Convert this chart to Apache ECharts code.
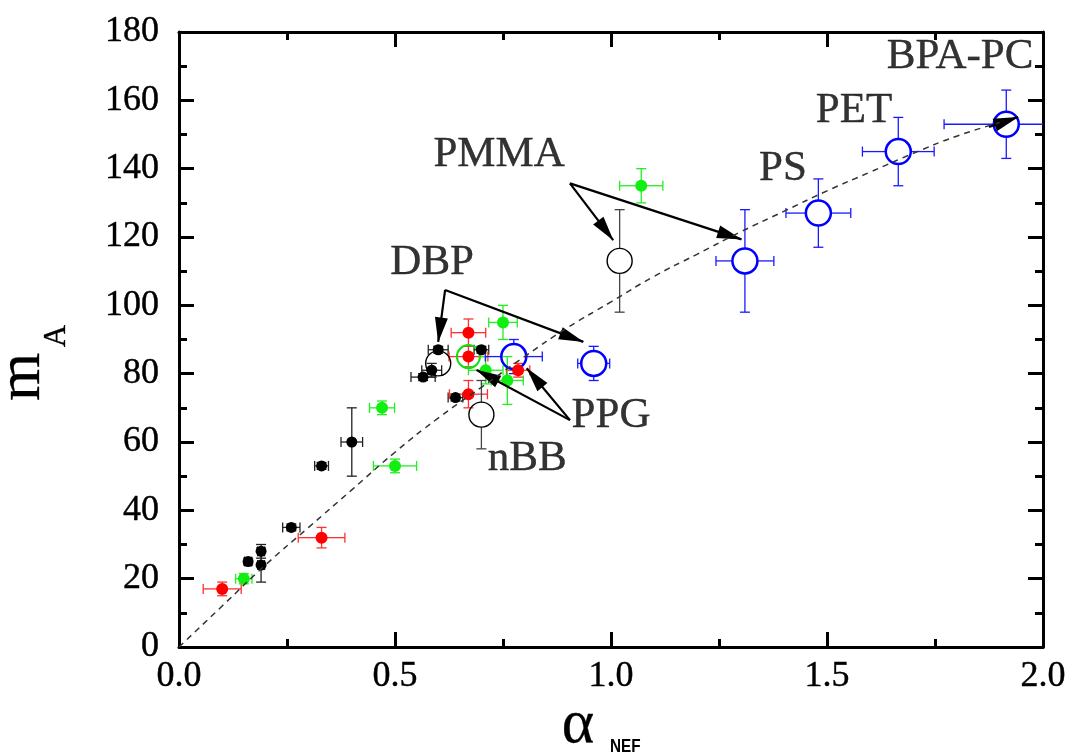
<!DOCTYPE html>
<html>
<head>
<meta charset="utf-8">
<script src="https://cdn.jsdelivr.net/npm/echarts@6/dist/echarts.min.js"></script>
<style>
  html, body { margin: 0; padding: 0; background: #fff; }
  #chart { width: 1072px; height: 752px; }
</style>
</head>
<body>
<div id="chart"></div>
<script>
// black filled points
var blackX = [0.16, 0.19, 0.19, 0.26, 0.33, 0.40, 0.565, 0.585, 0.60, 0.64, 0.70];
var blackY = [25, 28, 24, 35, 53, 60, 79, 81, 87, 73, 87];
var blackXErr = [0.008, 0.008, 0.008, 0.02, 0.016, 0.025, 0.028, 0.023, 0.023, 0.017, 0.017];
var blackYErr = [1, 2, 5, 1, 1, 10, 1, 2, 1, 1, 1];

// red filled points
var redX = [0.10, 0.33, 0.67, 0.67, 0.67, 0.785];
var redY = [17, 32, 92, 85, 74, 81];
var redXErr = [0.044, 0.054, 0.04, 0.045, 0.044, 0.027];
var redYErr = [2, 3, 4, 3, 4, 2];

// green filled points
var greenX = [0.15, 0.47, 0.50, 0.71, 0.75, 0.76, 1.07];
var greenY = [20, 70, 53, 81, 95, 78, 135];
var greenXErr = [0.019, 0.029, 0.05, 0.04, 0.033, 0.037, 0.05];
var greenYErr = [1.5, 2, 2, 4, 5, 7, 5];

// blue open circles (PS, PET, BPA-PC ...)
var blueX = [0.775, 0.96, 1.31, 1.48, 1.665, 1.915];
var blueY = [85, 83, 113, 127, 145, 153];
var blueXErr = [0.066, 0.037, 0.067, 0.075, 0.083, 0.144];
var blueYErr = [5, 5, 15, 10, 10, 10];

// black open circles (DBP, nBB, PMMA)
var openX = [0.60, 0.70, 1.02];
var openY = [83, 68, 113];
var openXErr = [0, 0, 0];
var openYErr = [0, 10, 15];

// green open circle
var greenOpenX = [0.67];
var greenOpenY = [85];

// dashed guide curve
var fitX = [0, 0.1, 0.2, 0.3, 0.4, 0.5, 0.6, 0.7, 0.8, 0.9, 1.0, 1.1, 1.2, 1.3, 1.4, 1.5, 1.6, 1.7, 1.8, 1.9];
var fitY = [0, 12, 24, 35, 46, 57, 67, 76, 85, 93.5, 101, 108.5, 115, 121.5, 127.5, 133.5, 139, 144.5, 149.5, 153.5];

// text annotations
var labelNames = ['PMMA', 'BPA-PC', 'PET', 'PS', 'DBP', 'PPG', 'nBB'];
var labelX = [0.741, 1.808, 1.5625, 1.398, 0.586, 1.0, 0.806];
var labelY = [144, 172.7, 156.9, 139.9, 112.4, 67.6, 55.0];

// arrows [x1, y1, x2, y2], (x2, y2) is the tip
var arrows = [
  [0.905, 135.7, 1.005, 119.1],
  [0.905, 135.7, 1.302, 119.3],
  [0.616, 104.5, 0.600, 89.3],
  [0.616, 104.5, 0.936, 89.3],
  [0.905, 66.4, 0.689, 81.1],
  [0.905, 66.4, 0.805, 81.6],
  [1.875, 152.2, 1.942, 155.1]
];

function zip() {
  var cols = Array.prototype.slice.call(arguments);
  return cols[0].map(function (_, i) {
    return cols.map(function (c) { return c[i]; });
  });
}

function errBars(color, gap) {
  return function (params, api) {
    var x = api.value(0), y = api.value(1), ex = api.value(2), ey = api.value(3);
    var c = api.coord([x, y]);
    var cap = 5;
    var st = { stroke: color, lineWidth: 1.3 };
    var kids = [];
    function seg(x1, y1, x2, y2) {
      kids.push({ type: 'line', shape: { x1: x1, y1: y1, x2: x2, y2: y2 }, style: st });
    }
    if (ex > 0) {
      var l = api.coord([x - ex, y]), r = api.coord([x + ex, y]);
      seg(l[0], c[1], c[0] - gap, c[1]);
      seg(c[0] + gap, c[1], r[0], c[1]);
      seg(l[0], c[1] - cap, l[0], c[1] + cap);
      seg(r[0], c[1] - cap, r[0], c[1] + cap);
    }
    if (ey > 0) {
      var t = api.coord([x, y + ey]), b = api.coord([x, y - ey]);
      seg(c[0], t[1], c[0], c[1] - gap);
      seg(c[0], c[1] + gap, c[0], b[1]);
      seg(c[0] - cap, t[1], c[0] + cap, t[1]);
      seg(c[0] - cap, b[1], c[0] + cap, b[1]);
    }
    return { type: 'group', children: kids };
  };
}

var serif = 'Liberation Serif';

function tickAxis(pos, min, max, interval, showLabel) {
  return {
    type: 'value', position: pos, min: min, max: max, interval: interval,
    axisLine: { show: true, onZero: false, lineStyle: { color: '#000', width: 3 } },
    axisTick: { show: true, inside: true, length: 15, lineStyle: { color: '#000', width: 3 } },
    minorTick: { show: true, splitNumber: 2, length: 8, lineStyle: { color: '#000', width: 3 } },
    splitLine: { show: false },
    axisLabel: { show: showLabel, fontFamily: serif, fontSize: 36, color: '#000',
      textBorderColor: '#000', textBorderWidth: 0.4 }
  };
}

var xBottom = tickAxis('bottom', 0, 2, 0.5, true);
xBottom.axisLabel.margin = 12;
xBottom.axisLabel.formatter = function (v) { return v.toFixed(1); };
var xTop = tickAxis('top', 0, 2, 0.5, false);
var yLeft = tickAxis('left', 0, 180, 20, true);
yLeft.axisLabel.margin = 20;
var yRight = tickAxis('right', 0, 180, 20, false);

var arrowHead = 'path://M6,0 L12,24 L0,24 Z';

var chart = echarts.init(document.getElementById('chart'));
var option = {
  animation: false,
  backgroundColor: '#fff',
  grid: { left: 179, right: 29, top: 32, bottom: 105 },
  xAxis: [xBottom, xTop],
  yAxis: [yLeft, yRight],
  graphic: [
    { type: 'text', x: 23, y: 377, rotation: Math.PI / 2,
      style: { text: 'm', font: '62px "Liberation Serif"', fill: '#000', align: 'center', verticalAlign: 'middle',
        stroke: '#000', lineWidth: 0.3 } },
    { type: 'text', x: 57, y: 336, rotation: Math.PI / 2,
      style: { text: 'A', font: '31px "Liberation Serif"', fill: '#000', align: 'center', verticalAlign: 'middle',
        stroke: '#000', lineWidth: 0.3 } },
    { type: 'text', x: 578, y: 726,
      style: { text: 'α', font: '62px "Liberation Serif"', fill: '#000', align: 'center', verticalAlign: 'middle',
        stroke: '#000', lineWidth: 0.3 } },
    { type: 'text', x: 610, y: 738, scaleX: 0.85,
      style: { text: 'NEF', font: 'bold 18px "Liberation Sans"', fill: '#000', align: 'left', verticalAlign: 'top' } }
  ],
  series: [
    { type: 'custom', name: 'err-black', clip: true, z: 2, renderItem: errBars('#222', 0),
      data: zip(blackX, blackY, blackXErr, blackYErr) },
    { type: 'custom', name: 'err-red', clip: true, z: 2, renderItem: errBars('#ff3030', 0),
      data: zip(redX, redY, redXErr, redYErr) },
    { type: 'custom', name: 'err-green', clip: true, z: 2, renderItem: errBars('#22ee22', 0),
      data: zip(greenX, greenY, greenXErr, greenYErr) },
    { type: 'custom', name: 'err-blue', clip: true, z: 2, renderItem: errBars('#1a1aff', 12.5),
      data: zip(blueX, blueY, blueXErr, blueYErr) },
    { type: 'custom', name: 'err-open', clip: true, z: 2, renderItem: errBars('#444', 12.5),
      data: zip(openX, openY, openXErr, openYErr) },
    { type: 'scatter', name: 'open-black', z: 3, symbolSize: 25,
      itemStyle: { color: 'rgba(255,255,255,0)', borderColor: '#000', borderWidth: 1.4, opacity: 1 },
      data: zip(openX, openY) },
    { type: 'scatter', name: 'open-blue', z: 3, symbolSize: 25,
      itemStyle: { color: 'rgba(255,255,255,0)', borderColor: '#0000ff', borderWidth: 2.5, opacity: 1 },
      data: zip(blueX, blueY) },
    { type: 'scatter', name: 'open-green', z: 3, symbolSize: 23,
      itemStyle: { color: 'rgba(255,255,255,0)', borderColor: '#11dd11', borderWidth: 2, opacity: 1 },
      data: zip(greenOpenX, greenOpenY) },
    { type: 'scatter', name: 'black', z: 4, symbolSize: 11,
      itemStyle: { color: '#000', opacity: 1 }, data: zip(blackX, blackY) },
    { type: 'scatter', name: 'red', z: 4, symbolSize: 12,
      itemStyle: { color: '#ff0000', opacity: 1 }, data: zip(redX, redY) },
    { type: 'scatter', name: 'green', z: 4, symbolSize: 12,
      itemStyle: { color: '#11ee11', opacity: 1 }, data: zip(greenX, greenY) },
    { type: 'line', name: 'fit', z: 5, showSymbol: false, smooth: true, silent: true,
      lineStyle: { color: '#333', width: 1.5, type: [6, 5] },
      data: zip(fitX, fitY),
      markLine: {
        silent: true, animation: false,
        symbol: ['none', 'none'],
        lineStyle: { color: '#000', width: 2.2, type: 'solid' },
        label: { show: false },
        data: arrows.map(function (a) {
          return [{ coord: [a[0], a[1]] },
                  { coord: [a[2], a[3]], symbol: arrowHead, symbolSize: [13, 25],
                    symbolKeepAspect: false, symbolOffset: [0, 12] }];
        })
      }
    },
    { type: 'scatter', name: 'labels', z: 6, symbolSize: 0, silent: true,
      label: { show: true, position: 'inside', formatter: '{b}', fontFamily: serif, fontSize: 43, color: '#000',
        textBorderColor: '#000', textBorderWidth: 0.4 },
      data: labelNames.map(function (n, i) { return { name: n, value: [labelX[i], labelY[i]] }; })
    }
  ]
};
chart.setOption(option);
</script>
</body>
</html>
